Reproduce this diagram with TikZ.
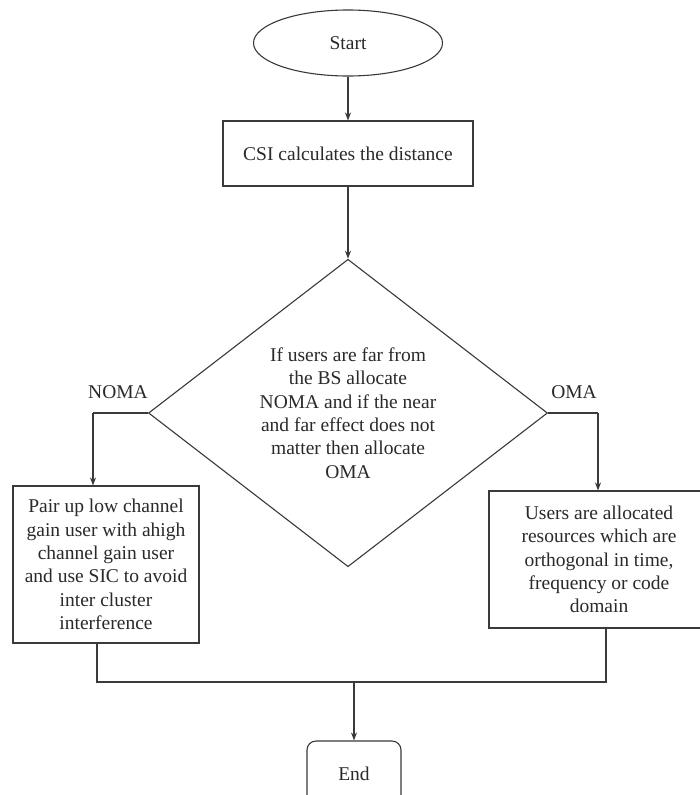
\documentclass[tikz,border=0pt]{standalone}
\usepackage{fontspec}
\setmainfont{Liberation Serif}
\usetikzlibrary{shapes.geometric,arrows.meta,calc}
\definecolor{ln}{HTML}{3A3A3A}
\definecolor{tx}{HTML}{2A2A2A}
\begin{document}
\begin{tikzpicture}[x=1pt,y=-1pt,
  every node/.style={text=tx,font=\fontsize{19.5}{23.4}\selectfont,align=center,inner sep=0pt},
  shp/.style={draw=ln,line width=1.1pt},
  boxnode/.style={shp,rectangle},
  conn/.style={draw=ln,line width=1.1pt},
  arr/.style={conn,-{Stealth[length=8pt,width=6pt]}}]
\useasboundingbox (0,0) rectangle (700,795);
\clip (0,0) rectangle (700,795);
\fill[white] (0,0) rectangle (700,795);
\node[shp,ellipse,minimum width=189pt,minimum height=66pt] (start) at (348,43) {Start};
\node[boxnode,minimum width=250pt,minimum height=65pt] (csi) at (348,153.5) {CSI calculates the distance};
\node[shp,diamond,minimum width=399pt,minimum height=306pt] (dec) at (348,413) {If users are far from\\the BS allocate\\NOMA and if the near\\and far effect does not\\matter then allocate\\OMA};
\node[boxnode,minimum width=186pt,minimum height=157pt] (left) at (106,564.5) {Pair up low channel\\gain user with ahigh\\channel gain user\\and use SIC to avoid\\inter cluster\\interference};
\node[boxnode,minimum width=220pt,minimum height=137pt] (right) at (599,559.5) {Users are allocated\\resources which are\\orthogonal in time,\\frequency or code\\domain};
\node[shp,rectangle,rounded corners=9pt,minimum width=94pt,minimum height=66pt] (end) at (354,774) {End};
\node (noma) at (118,392) {NOMA};
\node (oma) at (574,392) {OMA};
\coordinate (nl) at (93,413);
\coordinate (nr) at (598,413);
\coordinate (bl) at (97,682);
\coordinate (br) at (606,682);
\coordinate (bm) at (354,682);
\draw[arr] (start.south) -- (csi.north);
\draw[arr] (csi.south) -- (dec.north);
\draw[conn] (dec.west) -- (nl);
\draw[arr] (nl) -- (nl |- left.north);
\draw[conn] (dec.east) -- (nr);
\draw[arr] (nr) -- (nr |- right.north);
\draw[conn] (bl |- left.south) -- (bl) -- (br) -- (br |- right.south);
\draw[arr] (bm) -- (end.north);
\end{tikzpicture}
\end{document}
